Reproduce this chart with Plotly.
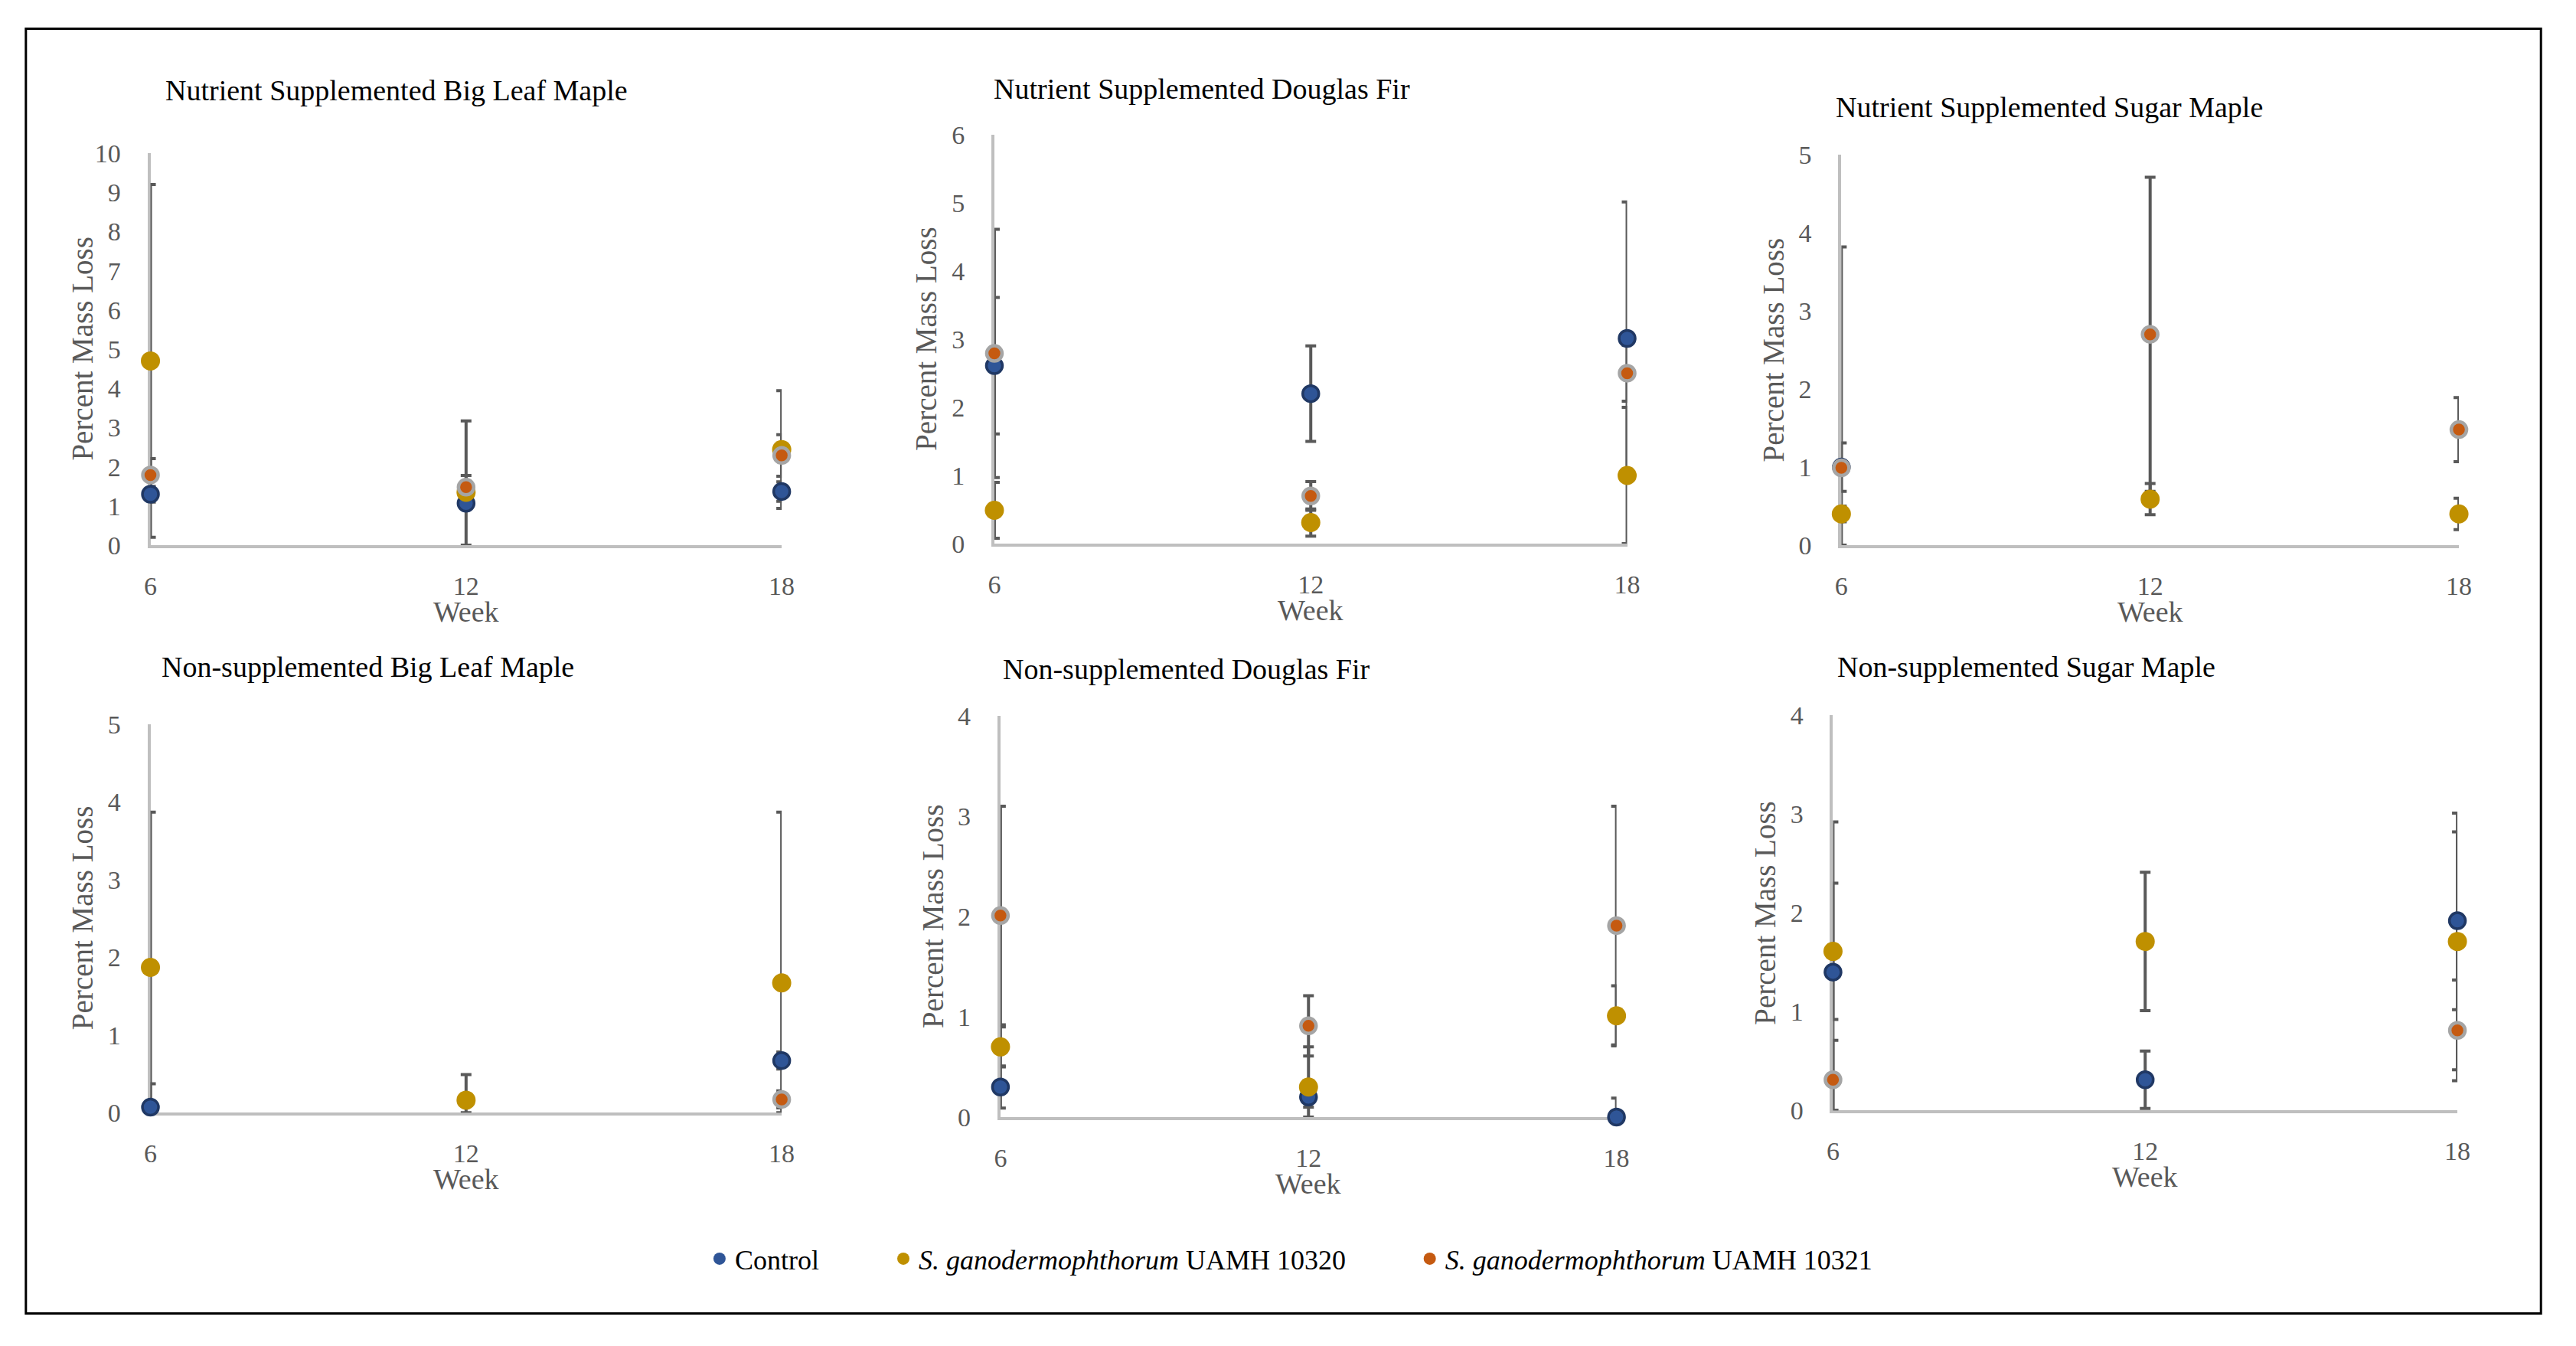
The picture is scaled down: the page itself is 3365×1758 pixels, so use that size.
import plotly.graph_objects as go

# ---------------- data ----------------
weeks = [6, 12, 18]
week_ticks = ["6", "12", "18"]

panel_titles = [
    "Nutrient Supplemented Big Leaf Maple",
    "Nutrient Supplemented Douglas Fir",
    "Nutrient Supplemented Sugar Maple",
    "Non-supplemented Big Leaf Maple",
    "Non-supplemented Douglas Fir",
    "Non-supplemented Sugar Maple",
]
y_max = [10, 6, 5, 5, 4, 4]

series_names = [
    "Control",
    "<i>S. ganodermophthorum</i> UAMH 10320",
    "<i>S. ganodermophthorum</i> UAMH 10321",
]

# Nutrient supplemented Big Leaf Maple
ns_blm_control = [1.30, 1.07, 1.37]
ns_blm_control_err = [0.20, 2.10, 0.25]
ns_blm_10320 = [4.70, 1.35, 2.44]
ns_blm_10320_err = [4.50, 0.15, 1.50]
ns_blm_10321 = [1.79, 1.48, 2.29]
ns_blm_10321_err = [0.42, 0.30, 0.53]

# Nutrient supplemented Douglas Fir
ns_df_control = [2.61, 2.20, 3.01]
ns_df_control_err = [1.00, 0.70, 2.00]
ns_df_10320 = [0.49, 0.31, 1.00]
ns_df_10320_err = [0.41, 0.20, 1.00]
ns_df_10321 = [2.79, 0.70, 2.50]
ns_df_10321_err = [1.82, 0.21, 0.41]

# Nutrient supplemented Sugar Maple
ns_sm_control = [1.00, None, None]
ns_sm_control_err = [0.31, 0, 0]
ns_sm_10320 = [0.40, 0.59, 0.40]
ns_sm_10320_err = [0.10, 0.20, 0.20]
ns_sm_10321 = [0.99, 2.70, 1.48]
ns_sm_10321_err = [2.83, 2.01, 0.41]

# Non-supplemented Big Leaf Maple
nn_blm_control = [0.07, None, 0.67]
nn_blm_control_err = [0.30, 0, 0.11]
nn_blm_10320 = [1.87, 0.16, 1.67]
nn_blm_10320_err = [2.00, 0.33, 2.20]
nn_blm_10321 = [None, None, 0.17]
nn_blm_10321_err = [0, 0, 0.11]

# Non-supplemented Douglas Fir
nn_df_control = [0.30, 0.20, 0.00]
nn_df_control_err = [0.21, 0.10, 0.19]
nn_df_10320 = [0.70, 0.30, 1.01]
nn_df_10320_err = [0.20, 0.40, 0.30]
nn_df_10321 = [2.01, 0.91, 1.91]
nn_df_10321_err = [1.09, 0.30, 1.19]

# Non-supplemented Sugar Maple
nn_sm_control = [1.40, 0.31, 1.92]
nn_sm_control_err = [1.52, 0.29, 0.90]
nn_sm_10320 = [1.61, 1.71, 1.71]
nn_sm_10320_err = [0.69, 0.70, 1.30]
nn_sm_10321 = [0.31, None, 0.81]
nn_sm_10321_err = [0.40, 0, 0.51]

panels = [
    [(ns_blm_control, ns_blm_control_err), (ns_blm_10320, ns_blm_10320_err), (ns_blm_10321, ns_blm_10321_err)],
    [(ns_df_control, ns_df_control_err), (ns_df_10320, ns_df_10320_err), (ns_df_10321, ns_df_10321_err)],
    [(ns_sm_control, ns_sm_control_err), (ns_sm_10320, ns_sm_10320_err), (ns_sm_10321, ns_sm_10321_err)],
    [(nn_blm_control, nn_blm_control_err), (nn_blm_10320, nn_blm_10320_err), (nn_blm_10321, nn_blm_10321_err)],
    [(nn_df_control, nn_df_control_err), (nn_df_10320, nn_df_10320_err), (nn_df_10321, nn_df_10321_err)],
    [(nn_sm_control, nn_sm_control_err), (nn_sm_10320, nn_sm_10320_err), (nn_sm_10321, nn_sm_10321_err)],
]

# ---------------- layout / style ----------------
W, H = 3365, 1758
FONT = "Liberation Serif"
GRAY = "#595959"
AXIS_GRAY = "#BFBFBF"

# plot-area pixel boxes (left, right, top, bottom)
boxes = [
    (189, 1020, 186, 709),
    (1300, 2133, 161, 707),
    (2415, 3228, 188, 709),
    (189, 1020, 948, 1466),
    (1308, 2119, 937, 1472),
    (2404, 3226, 936, 1463),
]
title_px = [(207, 102), (1297, 100), (2406, 125), (202, 871), (1309, 874), (2408, 871)]

marker_styles = [
    dict(color="#2F5597", size=21, line=dict(color="#203864", width=3.5)),
    dict(color="#BF9000", size=25, line=dict(color="#BF9000", width=0)),
    dict(color="#C55A11", size=20, line=dict(color="#A5A5A5", width=4.5)),
]
legend_colors = ["#2F5597", "#BF9000", "#C55A11"]

fig = go.Figure()

for i, series in enumerate(panels):
    ax = "" if i == 0 else str(i + 1)
    # error bars first (so all markers sit on top)
    for vals, errs in series:
        minus = [min(e, v) if v is not None else 0 for v, e in zip(vals, errs)]
        fig.add_trace(go.Scatter(
            x=weeks, y=vals, mode="markers",
            marker=dict(size=1, color="rgba(0,0,0,0)"),
            error_y=dict(type="data", symmetric=False, array=errs, arrayminus=minus,
                         color=GRAY, thickness=4, width=7),
            xaxis="x" + ax, yaxis="y" + ax, showlegend=False, hoverinfo="skip",
            cliponaxis=False,
        ))
    for k, (vals, errs) in enumerate(series):
        fig.add_trace(go.Scatter(
            x=weeks, y=vals, mode="markers", marker=marker_styles[k],
            name=series_names[k], xaxis="x" + ax, yaxis="y" + ax,
            showlegend=False, cliponaxis=False,
        ))

# legend entries
legend_keys = ["legend", "legend2", "legend3"]
for k in range(3):
    fig.add_trace(go.Scatter(
        x=[None], y=[None], mode="markers",
        marker=dict(color=legend_colors[k], size=16),
        name=series_names[k], legend=legend_keys[k], showlegend=True,
    ))

layout = dict(
    width=W, height=H,
    margin=dict(l=0, r=0, t=0, b=0),
    paper_bgcolor="white", plot_bgcolor="white",
    font=dict(family=FONT, color=GRAY, size=34),
    annotations=[], shapes=[],
)

for i, (l, r, t, b) in enumerate(boxes):
    ax = "" if i == 0 else str(i + 1)
    layout["xaxis" + ax] = dict(
        domain=[l / W, r / W], anchor="y" + ax, range=[6, 18],
        tickvals=weeks, ticktext=week_ticks, showgrid=False, zeroline=False,
        showline=True, linecolor=AXIS_GRAY, linewidth=4, ticks="",
        tickfont=dict(family=FONT, size=34, color=GRAY), ticklabelstandoff=20,
        layer="below traces", fixedrange=True,
    )
    layout["yaxis" + ax] = dict(
        domain=[1 - b / H, 1 - t / H], anchor="x" + ax, range=[0, y_max[i]],
        dtick=1, showgrid=False, zeroline=False,
        showline=True, linecolor=AXIS_GRAY, linewidth=4, ticks="",
        tickfont=dict(family=FONT, size=34, color=GRAY), ticklabelstandoff=28,
        layer="below traces", fixedrange=True,
    )
    xr = "x" + ax
    yr = "y" + ax
    layout["annotations"].append(dict(
        text="Week", xref=xr, x=12, yref=yr + " domain", y=0, yshift=-87,
        xanchor="center", yanchor="middle", showarrow=False,
        font=dict(family=FONT, size=38, color=GRAY),
    ))
    layout["annotations"].append(dict(
        text="Percent Mass Loss", xref=xr + " domain", x=0, xshift=-89,
        yref=yr + " domain", y=0.5, textangle=-90,
        xanchor="center", yanchor="middle", showarrow=False,
        font=dict(family=FONT, size=39, color=GRAY),
    ))
    tx, ty = title_px[i]
    layout["annotations"].append(dict(
        text=panel_titles[i], xref="paper", x=tx / W, yref="paper", y=1 - ty / H,
        xanchor="left", yanchor="middle", showarrow=False,
        font=dict(family=FONT, size=38, color="black"),
    ))

legend_x_px = [918, 1160, 1853]
for k, key in enumerate(legend_keys):
    layout[key] = dict(
        x=legend_x_px[k] / W, y=1 - 1661 / H, xanchor="left", yanchor="middle",
        orientation="h", bgcolor="rgba(0,0,0,0)",
        font=dict(family=FONT, size=36, color="black"),
    )

layout["shapes"].append(dict(
    type="rect", xref="paper", yref="paper",
    x0=25 / W, x1=3336 / W, y0=1 - 1734 / H, y1=1 - 20 / H,
    line=dict(color="black", width=3), fillcolor="rgba(0,0,0,0)",
))

fig.update_layout(**layout)
fig.write_html(
    "out.html",
    config={"displayModeBar": False},
    post_script=(
        "document.documentElement.style.margin='0';"
        "document.body.style.margin='0';document.body.style.padding='0';"
        "document.documentElement.style.overflow='hidden';"
        "document.body.style.overflow='hidden';"
    ),
)
